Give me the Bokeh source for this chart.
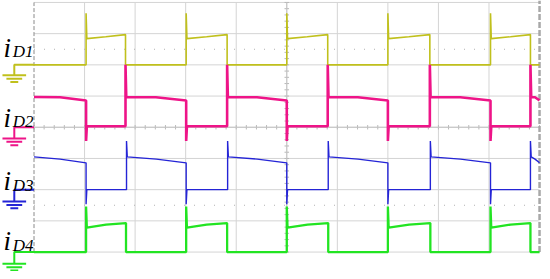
from bokeh.plotting import figure
from bokeh.models import Range1d
from bokeh.embed import file_html
from bokeh.resources import INLINE
from bokeh.core.properties import value

# ---- data (time and current in oscilloscope divisions) ----
channels = ["D1", "D2", "D3", "D4"]
zero_levels = [6.0, 4.0, 2.0, 0.0]

d1_on = [1.03, 3.01, 5.00, 7.00, 9.03]
d1_off = [1.81, 3.82, 5.81, 7.83, 9.82]
d2_on = [0.00, 1.81, 3.82, 5.81, 7.83, 9.82]
d2_off = [1.03, 3.01, 5.00, 7.00, 9.03, 10.0]
d3_on = [0.00, 1.83, 3.83, 5.82, 7.84, 9.82]
d3_off = [1.03, 3.01, 5.00, 7.00, 9.03, 10.0]
d4_on = [1.03, 3.01, 5.00, 7.00, 9.03]
d4_off = [1.82, 3.82, 5.82, 7.84, 9.82]

# plateau level at start / middle / end of each conduction interval, spikes at edges
level_start = [0.84, 0.97, 1.05, 0.78]
level_mid = [0.90, 0.96, 0.98, 0.88]
level_end = [0.97, 0.86, 0.86, 0.93]
spike_up = [1.65, 2.00, 1.56, 1.46]
spike_down = [0.0, -0.44, -0.47, 0.0]
low_level = [0.0, 0.03, 0.0, 0.0]

colors = ["#c0c01c", "#ee1488", "#2424d6", "#22e422"]
widths = [1.6, 2.6, 1.4, 2.3]

ons = [d1_on, d2_on, d3_on, d4_on]
offs = [d1_off, d2_off, d3_off, d4_off]

# ---- geometry helpers (reference pixel -> divisions) ----
PX_X = 51.3
PX_Y = 32.125
def xd(px):
    return (px - 34) / PX_X
def yd(py):
    return (259 - py) / PX_Y

p = figure(width=542, height=271, output_backend="svg", toolbar_location=None,
           x_range=Range1d(xd(0), xd(550)), y_range=Range1d(yd(279), yd(0)),
           min_border=0)
p.axis.visible = False
p.xgrid.visible = False
p.ygrid.visible = False
p.outline_line_color = None
p.background_fill_color = "white"
p.border_fill_color = "white"

grid_col = "#d4d4d4"
# grid
for i in range(1, 10):
    p.line([i, i], [0, 8], line_color=grid_col, line_width=1)
for j in range(0, 9):
    p.line([0, 10], [j, j], line_color=grid_col, line_width=1)
# centre axes with ticks
tick_x = [k * 0.2 for k in range(0, 51)]
p.segment(x0=tick_x, y0=[4 - 0.07] * len(tick_x), x1=tick_x, y1=[4 + 0.07] * len(tick_x),
          line_color="#b8b8b8", line_width=1)
tick_y = [k * 0.2 for k in range(0, 41)]
p.segment(x0=[5 - 0.045] * len(tick_y), y0=tick_y, x1=[5 + 0.045] * len(tick_y), y1=tick_y,
          line_color="#b8b8b8", line_width=1)
p.line([5, 5], [0, 8], line_color="#c4c4c4", line_width=1)
p.line([0, 10], [4, 4], line_color="#c4c4c4", line_width=1)
# dotted marker lines
for yy in [6.5, 1.5]:
    p.line([0, 10], [yy, yy], line_color="#b0b0b0", line_width=1.2, line_dash="1 9")
# borders
p.line([0, 0], [0, 8], line_color="#8a8a8a", line_width=1, line_dash="4 2")
p.line([10, 10], [0, 8.06], line_color="#a8a8a8", line_width=2.5, line_dash="6 2")


def build(on, off, ya, ym, yb, sup, sdn, low):
    xs, ys = [], []
    if on[0] > 0:
        xs.append(0.0); ys.append(low)
    for a, b in zip(on, off):
        if a > 0:
            xs += [a, a, a + 0.015]
            ys += [low, sup, ya]
        else:
            xs.append(a); ys.append(ya)
        xs.append((a + b) / 2); ys.append(ym)
        if b < 10:
            xs += [b, b, b + 0.015]
            ys += [yb, sdn if sdn != 0 else low, low]
        else:
            xs.append(b); ys.append(yb)
    if off[-1] < 10:
        xs.append(10.0); ys.append(low)
    return xs, ys


label_i_base = [49, 121, 186, 248]
label_sub_base = [53, 125, 190, 252]
ground_bar = [77, 142, 207, 271]

for k in range(4):
    z = zero_levels[k]
    xs, ys = build(ons[k], offs[k], level_start[k], level_mid[k], level_end[k],
                   spike_up[k], spike_down[k], low_level[k])
    p.line(xs, [z + v for v in ys], line_color=colors[k], line_width=widths[k])
    # ground symbol
    gb = yd(ground_bar[k])
    p.line([xd(34), xd(14), xd(14)], [z, z, gb], line_color=colors[k], line_width=2)
    for n, half in enumerate([12, 8, 4]):
        yy = yd(ground_bar[k] + n * 3.5)
        p.line([xd(14 - half), xd(14 + half)], [yy, yy], line_color=colors[k], line_width=2)
    # label
    p.text(x=[xd(3)], y=[yd(label_i_base[k])], text=["i"],
           text_font=value("Liberation Serif"), text_font_style="italic",
           text_font_size="27px", text_color="black", text_baseline="alphabetic")
    p.text(x=[xd(12.5)], y=[yd(label_sub_base[k])], text=[channels[k]],
           text_font=value("Liberation Serif"), text_font_style="italic",
           text_font_size="17px", text_color="black", text_baseline="alphabetic")

open("out.html", "w").write(file_html(p, INLINE))
